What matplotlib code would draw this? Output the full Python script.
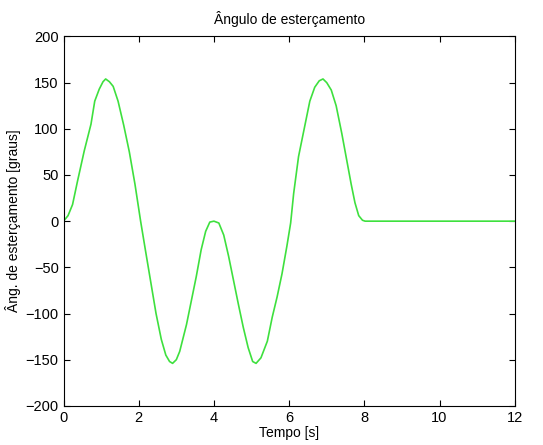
import numpy as np
import matplotlib.pyplot as plt

plt.rcParams['font.family'] = ['Liberation Sans', 'DejaVu Sans']

# valores (tempo [s], ângulo [graus])
tempo = [0.0, 0.12, 0.24, 0.37, 0.55, 0.73, 0.83, 0.95, 1.05, 1.12,
         1.22, 1.32, 1.45, 1.60, 1.75, 1.90, 2.05, 2.18, 2.32, 2.46,
         2.60, 2.72, 2.82, 2.90, 3.00, 3.09, 3.27, 3.40, 3.53, 3.66,
         3.78, 3.89, 4.00, 4.13, 4.26, 4.39, 4.52, 4.65, 4.78, 4.91,
         5.03, 5.12, 5.25, 5.42, 5.55, 5.68, 5.81, 5.94, 6.04, 6.12,
         6.25, 6.40, 6.55, 6.68, 6.80, 6.90, 7.00, 7.12, 7.25, 7.40,
         7.55, 7.65, 7.75, 7.85, 7.95, 8.02, 12.0]
angulo = [0, 6, 18, 43, 76, 105, 130, 143, 151, 154,
          151, 146, 130, 104, 75, 40, 0, -32, -66, -100,
          -128, -145, -152, -154, -150, -141, -112, -86, -60, -31,
          -11, -1, 0, -2, -15, -38, -64, -90, -115, -137,
          -152, -154, -148, -130, -104, -82, -57, -27, -2, 30,
          70, 100, 130, 145, 152, 154, 150, 142, 125, 95,
          62, 40, 20, 6, 1, 0, 0]

fig = plt.figure(figsize=(5.43, 4.45), dpi=100)
ax = fig.add_axes([0.117, 0.088, 0.831, 0.830])
ax.plot(tempo, angulo, color='#3ee03e', linewidth=1.2)

ax.set_xlim(0, 12)
ax.set_ylim(-200, 200)
ax.set_xticks(np.arange(0, 13, 2))
ax.set_yticks(np.arange(-200, 201, 50))
ax.tick_params(direction='in', top=True, right=True, labelsize=10.5, length=4)
ax.set_title('Ângulo de esterçamento', fontsize=10, pad=9)
ax.set_xlabel('Tempo [s]', fontsize=10, labelpad=1)
ax.set_ylabel('Âng. de esterçamento [graus]', fontsize=10, labelpad=3)

fig.savefig('out.png', dpi=100)
